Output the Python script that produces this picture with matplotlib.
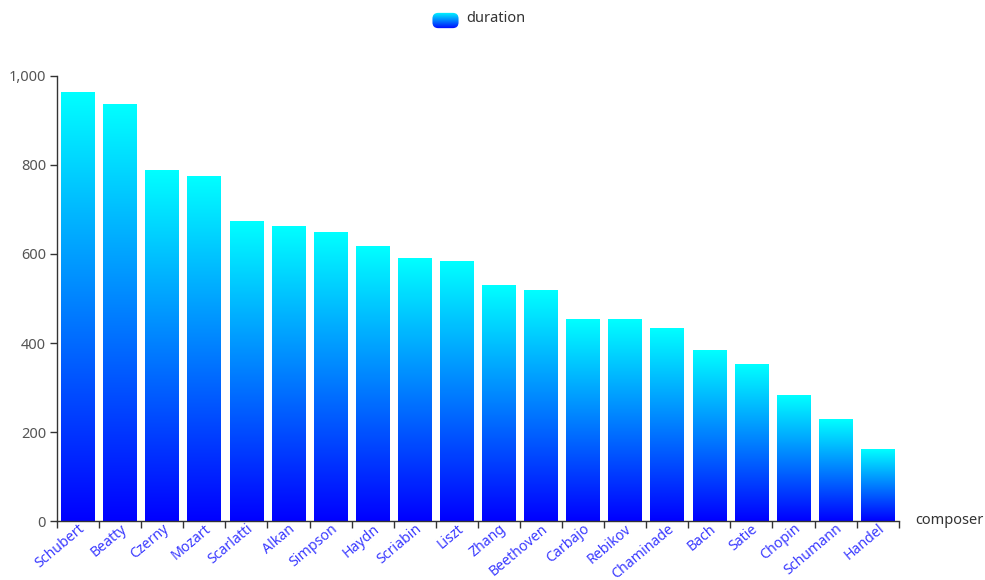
import numpy as np
import matplotlib
matplotlib.use('Agg')
import matplotlib.pyplot as plt
from matplotlib.colors import LinearSegmentedColormap
from matplotlib.patches import FancyBboxPatch
from matplotlib.ticker import FuncFormatter, MultipleLocator

plt.rcParams['font.family'] = ['Noto Sans', 'DejaVu Sans']

composers = ['Schubert', 'Beatty', 'Czerny', 'Mozart', 'Scarlatti', 'Alkan', 'Simpson',
             'Haydn', 'Scriabin', 'Liszt', 'Zhang', 'Beethoven', 'Carbajo', 'Rebikov',
             'Chaminade', 'Bach', 'Satie', 'Chopin', 'Schumann', 'Handel']
duration = [961, 934, 787, 774, 671, 661, 648, 615, 588, 582,
            529, 517, 452, 452, 433, 383, 352, 282, 227, 160]

# blue at the bottom of each bar, cyan at the top
grad_cmap = LinearSegmentedColormap.from_list('bluecyan', ['#0000ff', '#00ffff'])
grad = np.linspace(0, 1, 256).reshape(-1, 1)

fig = plt.figure(figsize=(9.85, 5.8), dpi=100)
ax = fig.add_axes([0.0579, 0.1012, 0.8545, 0.7683])

n = len(composers)
width = 0.8
for i, val in enumerate(duration):
    x0 = i - width / 2
    ax.imshow(grad, extent=[x0, x0 + width, 0, val], origin='lower',
              cmap=grad_cmap, aspect='auto', zorder=2, interpolation='bilinear')

ax.set_xlim(-0.5, n - 0.5)
ax.set_ylim(0, 1000)

# category ticks sit on the boundaries, labels in the middle
ax.set_xticks(np.arange(-0.5, n, 1.0))
ax.set_xticklabels([])
ax.set_xticks(np.arange(n), minor=True)
ax.set_xticklabels(composers, minor=True, rotation=40, ha='right', va='top',
                   rotation_mode='anchor', color='#3a3aff', fontsize=10.2)
ax.tick_params(axis='x', which='minor', length=0, pad=0)
ax.tick_params(axis='x', which='major', length=5, width=1, color='#333333')

ax.yaxis.set_major_locator(MultipleLocator(200))
ax.yaxis.set_major_formatter(FuncFormatter(lambda v, p: '{:,.0f}'.format(v)))
ax.tick_params(axis='y', length=5, width=1, color='#333333', labelcolor='#555555',
               labelsize=10.5, pad=3)

for side in ['top', 'right']:
    ax.spines[side].set_visible(False)
for side in ['left', 'bottom']:
    ax.spines[side].set_color('#333333')
    ax.spines[side].set_linewidth(1)
    ax.spines[side].set_zorder(4)

fig.text(0.929, 0.103, 'composer', fontsize=10.5, color='#333333', va='center', ha='left')

# legend: rounded gradient swatch plus label
lax = fig.add_axes([431 / 985, 1 - 29 / 580, 29 / 985, 17 / 580])
lax.set_xlim(0, 1)
lax.set_ylim(0, 1)
lax.axis('off')
im = lax.imshow(grad, extent=[0, 1, 0, 1], origin='lower', cmap=grad_cmap, aspect='auto')
clip = FancyBboxPatch((0.05, 0.05), 0.9, 0.9, boxstyle='round,pad=0,rounding_size=0.2',
                      transform=lax.transAxes, facecolor='none', edgecolor='none',
                      mutation_aspect=29 / 17)
lax.add_patch(clip)
im.set_clip_path(clip)
fig.text(466 / 985, 1 - 19 / 580, 'duration', fontsize=10.5, color='#333333',
         va='center', ha='left')

fig.savefig('out.png', dpi=100)
